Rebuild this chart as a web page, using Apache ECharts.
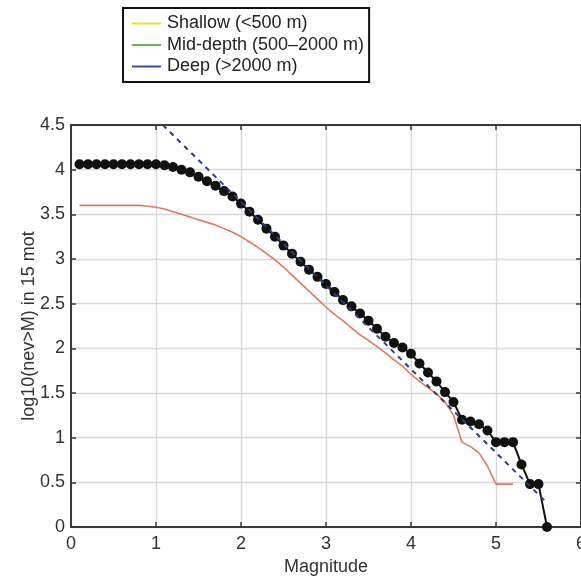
<!DOCTYPE html>
<html>
<head>
<meta charset="utf-8">
<script src="https://cdn.jsdelivr.net/npm/echarts@6/dist/echarts.min.js"></script>
<style>
  html, body { margin: 0; padding: 0; background: #fff; overflow: hidden; }
  #chart { width: 581px; height: 577px; }
</style>
</head>
<body>
<div id="chart"></div>
<script>
// Cumulative magnitude-frequency distribution: log10 of the number of events with magnitude >= M

// All events, one value per 0.1 magnitude bin
const magnitudesAll = [
  0.1, 0.2, 0.3, 0.4, 0.5, 0.6, 0.7, 0.8, 0.9, 1.0,
  1.1, 1.2, 1.3, 1.4, 1.5, 1.6, 1.7, 1.8, 1.9, 2.0,
  2.1, 2.2, 2.3, 2.4, 2.5, 2.6, 2.7, 2.8, 2.9, 3.0,
  3.1, 3.2, 3.3, 3.4, 3.5, 3.6, 3.7, 3.8, 3.9, 4.0,
  4.1, 4.2, 4.3, 4.4, 4.5, 4.6, 4.7, 4.8, 4.9, 5.0,
  5.1, 5.2, 5.3, 5.4, 5.5, 5.6
];
const logCountAll = [
  4.06, 4.06, 4.06, 4.06, 4.06, 4.06, 4.06, 4.06, 4.06, 4.06,
  4.05, 4.03, 4.00, 3.97, 3.92, 3.87, 3.82, 3.76, 3.70, 3.62,
  3.53, 3.44, 3.34, 3.25, 3.15, 3.06, 2.97, 2.88, 2.80, 2.72,
  2.63, 2.54, 2.47, 2.39, 2.31, 2.22, 2.13, 2.06, 2.01, 1.94,
  1.83, 1.73, 1.63, 1.51, 1.40, 1.20, 1.18, 1.15, 1.08, 0.95,
  0.95, 0.95, 0.70, 0.48, 0.48, 0.00
];

// Subset of events
const magnitudesSub = [
  0.1, 0.2, 0.3, 0.4, 0.5, 0.6, 0.7, 0.8, 0.9, 1.0,
  1.1, 1.2, 1.3, 1.4, 1.5, 1.6, 1.7, 1.8, 1.9, 2.0,
  2.1, 2.2, 2.3, 2.4, 2.5, 2.6, 2.7, 2.8, 2.9, 3.0,
  3.1, 3.2, 3.3, 3.4, 3.5, 3.6, 3.7, 3.8, 3.9, 4.0,
  4.1, 4.2, 4.3, 4.4, 4.5, 4.6, 4.7, 4.8, 4.9, 5.0,
  5.1, 5.2
];
const logCountSub = [
  3.60, 3.60, 3.60, 3.60, 3.60, 3.60, 3.60, 3.60, 3.59, 3.58,
  3.56, 3.53, 3.50, 3.47, 3.44, 3.41, 3.38, 3.34, 3.30, 3.25,
  3.19, 3.13, 3.06, 2.99, 2.91, 2.82, 2.73, 2.64, 2.55, 2.46,
  2.38, 2.31, 2.23, 2.15, 2.09, 2.02, 1.95, 1.87, 1.80, 1.71,
  1.63, 1.56, 1.49, 1.40, 1.25, 0.95, 0.90, 0.83, 0.68, 0.48,
  0.48, 0.48
];

// Gutenberg-Richter fit, end points
const fitMagnitudes = [1.08, 5.6];
const fitLogCount = [4.5, 0.27];

// Depth classes shown in the legend
const depthClasses = ['Shallow (<500 m)', 'Mid-depth (500\u20132000 m)', 'Deep (>2000 m)'];
const depthColors = ['#f2dc2e', '#62b84a', '#33509e'];

// Axis ticks
const xTicks = { min: 0, max: 6, interval: 1 };
const yTicks = { min: 0, max: 4.5, interval: 0.5 };

const pairs = (xs, ys) => xs.map((x, i) => [x, ys[i]]);

const FONT = 'Liberation Sans, Arial, Helvetica, sans-serif';
const AXIS_COLOR = '#3a3a3a';
const GRID_COLOR = '#d8d8d8';
const TEXT_COLOR = '#333333';

function frameAxis(extra) {
  return Object.assign({
    type: 'value',
    axisLine: { show: true, onZero: false, lineStyle: { color: AXIS_COLOR, width: 2 } },
    axisTick: { show: true, inside: true, length: 5, lineStyle: { color: AXIS_COLOR, width: 1.5 } },
    axisLabel: { show: false },
    splitLine: { show: false }
  }, extra);
}

const chart = echarts.init(document.getElementById('chart'), null, { renderer: 'canvas' });

const option = {
  backgroundColor: '#ffffff',
  animation: false,
  textStyle: { fontFamily: FONT },
  grid: { left: 71, right: 0, top: 125, bottom: 50, containLabel: false, outerBoundsMode: 'none' },
  legend: {
    data: depthClasses,
    orient: 'vertical',
    left: 123,
    top: 8,
    padding: [5, 5, 5, 9],
    backgroundColor: '#ffffff',
    borderColor: '#111111',
    borderWidth: 2,
    borderRadius: 0,
    icon: 'rect',
    itemWidth: 29,
    itemHeight: 2,
    itemGap: 0.5,
    selectedMode: false,
    textStyle: { fontFamily: FONT, fontSize: 18, lineHeight: 21, color: '#222222', padding: [0, 0, 0, 1] }
  },
  xAxis: [
    frameAxis({
      min: xTicks.min, max: xTicks.max, interval: xTicks.interval,
      position: 'bottom',
      name: 'Magnitude',
      nameLocation: 'middle',
      nameGap: 31,
      nameMoveOverlap: false,
      nameTextStyle: { fontFamily: FONT, fontSize: 18, color: TEXT_COLOR },
      axisLabel: { show: true, margin: 8, fontFamily: FONT, fontSize: 18, color: TEXT_COLOR },
      splitLine: { show: true, lineStyle: { color: GRID_COLOR, width: 1.3 } }
    }),
    frameAxis({ min: xTicks.min, max: xTicks.max, interval: xTicks.interval, position: 'top' })
  ],
  yAxis: [
    frameAxis({
      min: yTicks.min, max: yTicks.max, interval: yTicks.interval,
      position: 'left',
      name: 'log10(nev>M) in 15 mot',
      nameLocation: 'middle',
      nameGap: 33,
      nameMoveOverlap: false,
      nameTextStyle: { fontFamily: FONT, fontSize: 18, color: TEXT_COLOR },
      axisLabel: { show: true, margin: 6, fontFamily: FONT, fontSize: 18, color: TEXT_COLOR },
      splitLine: { show: true, lineStyle: { color: GRID_COLOR, width: 1.3 } }
    }),
    frameAxis({ min: yTicks.min, max: yTicks.max, interval: yTicks.interval, position: 'right' })
  ],
  series: [
    // legend-only depth classes
    ...depthClasses.map((name, i) => ({
      name: name,
      type: 'line',
      data: [],
      symbol: 'none',
      color: depthColors[i],
      lineStyle: { color: depthColors[i], width: 2 },
      itemStyle: { color: depthColors[i] }
    })),
    {
      name: 'subset',
      type: 'line',
      data: pairs(magnitudesSub, logCountSub),
      symbol: 'none',
      z: 2,
      lineStyle: { color: '#e07a5c', width: 1.6 }
    },
    {
      name: 'all events',
      type: 'line',
      data: pairs(magnitudesAll, logCountAll),
      symbol: 'circle',
      symbolSize: 10,
      showSymbol: true,
      showAllSymbol: true,
      z: 3,
      lineStyle: { color: '#111111', width: 2 },
      itemStyle: { color: '#111111' }
    },
    {
      name: 'fit',
      type: 'line',
      data: pairs(fitMagnitudes, fitLogCount),
      symbol: 'none',
      z: 4,
      clip: true,
      lineStyle: { color: '#27407a', width: 2, type: [5, 5] }
    }
  ]
};

chart.setOption(option);
</script>
</body>
</html>
